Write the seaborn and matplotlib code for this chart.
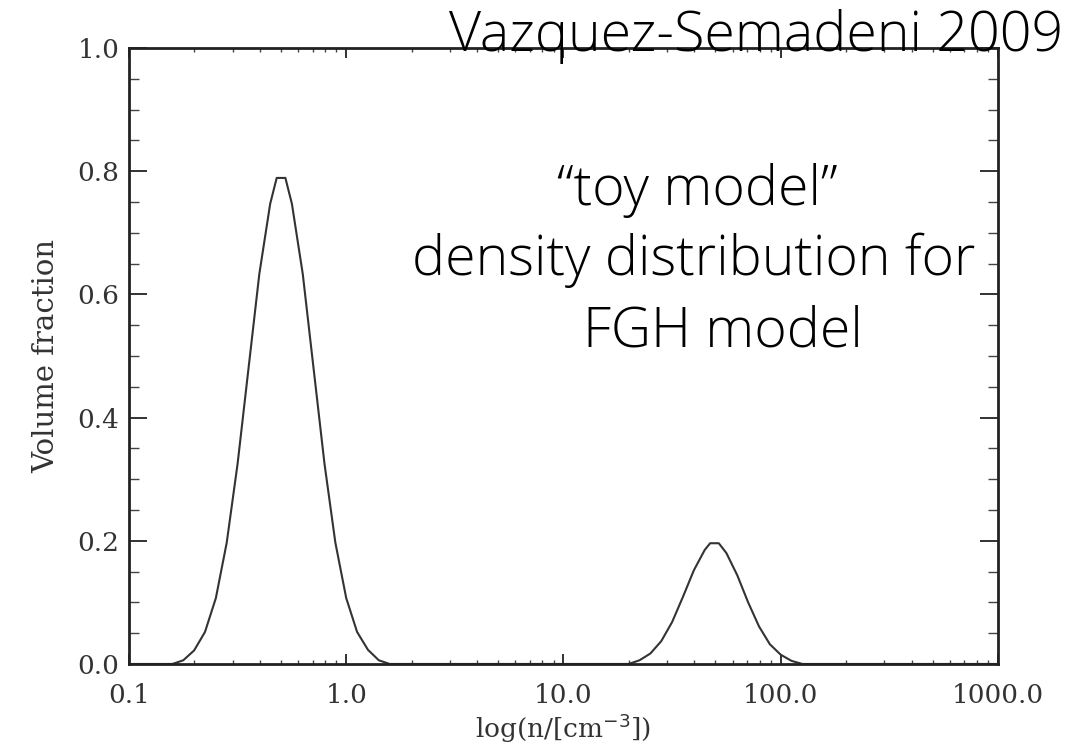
import numpy as np
import pandas as pd
import matplotlib
matplotlib.use("Agg")
import matplotlib.pyplot as plt
import seaborn as sns
from matplotlib.ticker import FixedLocator, NullFormatter, LogLocator

# ---- data (x in log10 n, y = volume fraction) ----
log_n_peak1 = [-1.0, -0.80, -0.75, -0.70, -0.65, -0.60, -0.55, -0.50, -0.45, -0.40,
               -0.35, -0.32, -0.28, -0.25, -0.20, -0.15, -0.10, -0.05, 0.00,
               0.05, 0.10, 0.15, 0.20]
frac_peak1 = [0.0, 0.0, 0.006, 0.022, 0.052, 0.107, 0.197, 0.325, 0.479, 0.633,
              0.747, 0.789, 0.789, 0.747, 0.633, 0.479, 0.325, 0.197, 0.107,
              0.052, 0.023, 0.006, 0.0]
log_n_peak2 = [1.30, 1.35, 1.40, 1.45, 1.50, 1.55, 1.60, 1.65, 1.675, 1.715,
               1.75, 1.80, 1.85, 1.90, 1.95, 2.00, 2.05, 2.10, 3.0]
frac_peak2 = [0.0, 0.006, 0.017, 0.037, 0.068, 0.109, 0.152, 0.185, 0.196, 0.196,
              0.180, 0.144, 0.100, 0.061, 0.032, 0.015, 0.005, 0.0, 0.0]

x_ticks = [0.1, 1.0, 10.0, 100.0, 1000.0]
x_tick_labels = ["0.1", "1.0", "10.0", "100.0", "1000.0"]
y_ticks = [0.0, 0.2, 0.4, 0.6, 0.8, 1.0]
y_tick_labels = ["0.0", "0.2", "0.4", "0.6", "0.8", "1.0"]

credit = "Vazquez-Semadeni 2009"
note_lines = ["\u201ctoy model\u201d", "density distribution for", "FGH model"]

log_n = log_n_peak1 + log_n_peak2
frac = frac_peak1 + frac_peak2
df = pd.DataFrame({"n": 10.0 ** np.array(log_n), "frac": frac})

sns.set_theme(style="ticks")
plt.rcParams["font.family"] = ["DejaVu Serif"]

fig = plt.figure(figsize=(10.81, 7.54), dpi=100)
ax = fig.add_axes([0.1193, 0.1194, 0.8039, 0.8170])

sns.lineplot(data=df, x="n", y="frac", ax=ax, color="#333333", linewidth=1.5,
             sort=False, estimator=None)

ax.set_xscale("log")
ax.set_xlim(0.1, 1000.0)
ax.set_ylim(0.0, 1.0)

ax.set_xticks(x_ticks)
ax.set_xticklabels(x_tick_labels)
ax.xaxis.set_minor_locator(LogLocator(base=10, subs=np.arange(2, 10)))
ax.xaxis.set_minor_formatter(NullFormatter())
ax.set_yticks(y_ticks)
ax.set_yticklabels(y_tick_labels)
ax.yaxis.set_minor_locator(FixedLocator(np.arange(0, 1.0001, 0.05)))

ax.tick_params(which="major", direction="in", top=True, right=True,
               length=13, width=1.3, color="#222222", labelsize=19,
               labelcolor="#333333")
ax.tick_params(axis="y", which="major", pad=7)
ax.tick_params(axis="x", which="major", length=7, pad=14)
ax.tick_params(which="minor", direction="in", top=True, right=True,
               length=3, width=1.0, color="#444444")
ax.tick_params(axis="y", which="minor", length=7)
for s in ax.spines.values():
    s.set_linewidth(2.0)
    s.set_color("#222222")

ax.set_xlabel("log(n/[cm$^{-3}$])", fontsize=19, color="#333333", labelpad=2)
ax.set_ylabel("Volume fraction", fontsize=21, color="#333333", labelpad=12)

ann_font = ["Open Sans", "DejaVu Sans"]
kw = dict(fontsize=40, family=ann_font, fontweight="light", color="black")
fig.text(0.9834, 0.932, credit, ha="right", va="baseline", **kw)
fig.text(0.645, 0.728, note_lines[0], ha="center", va="baseline", **kw)
fig.text(0.642, 0.635, note_lines[1], ha="center", va="baseline", **kw)
fig.text(0.669, 0.540, note_lines[2], ha="center", va="baseline", **kw)

fig.savefig("out.png", dpi=100)
